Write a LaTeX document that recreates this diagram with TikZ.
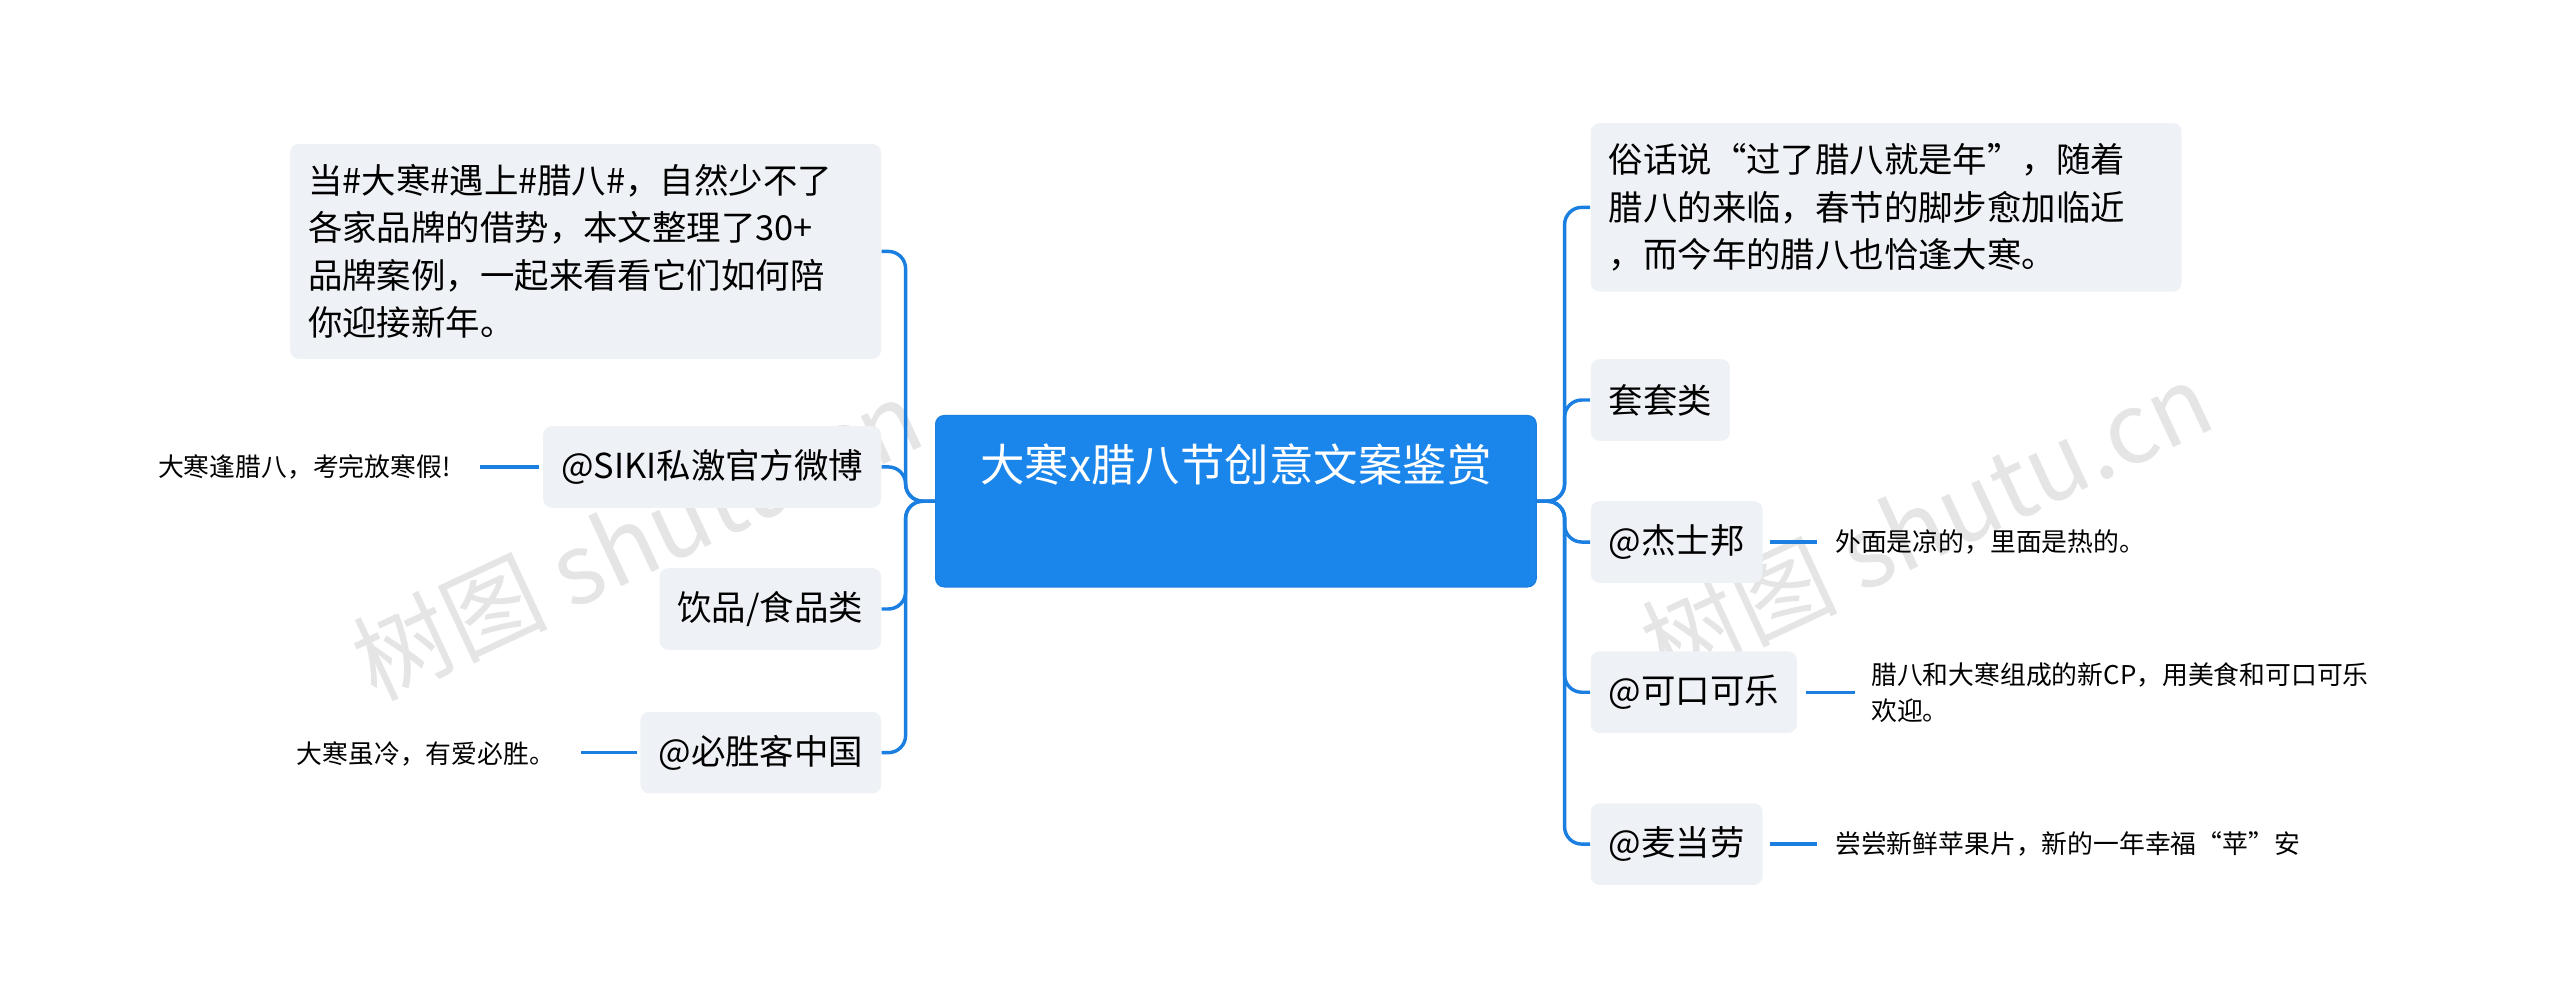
\documentclass[tikz,border=0pt]{standalone}
\usepackage{fontspec}
\setmainfont{Noto Sans CJK SC}
\usetikzlibrary{positioning,calc}
\definecolor{linkblue}{HTML}{1A7FE0}
\definecolor{rootblue}{HTML}{1A86EC}
\definecolor{topicgray}{HTML}{EEF1F5}
\begin{document}
\begin{tikzpicture}[x={(0.02cm,0)},y={(0,-0.02cm)}]
    \tikzset{root/.style={fill=rootblue,draw=linkblue,rounded corners=3pt,text=white,font=\fontsize{15.5}{19}\selectfont,minimum width=7.36cm,minimum height=2.1cm,text depth=0.95cm,inner sep=0pt},
      topic/.style={fill=topicgray,rounded corners=3pt,font=\fontsize{12}{15}\selectfont,minimum height=1cm,inner xsep=0.22cm},
      block/.style={fill=topicgray,rounded corners=3pt,font=\fontsize{12}{16.5}\selectfont,text width=6.8cm,align=left,inner xsep=0.22cm,inner ysep=0.25cm},
      leaf/.style={font=\fontsize{9}{12.5}\selectfont,align=left,inner sep=1pt},
      wire/.style={draw=linkblue,line width=1.2pt,rounded corners=6pt}}
    \useasboundingbox (0,0) rectangle (1568,615);
    % watermark
    \node[text=black!10,font=\fontsize{34}{40}\selectfont,rotate=25] at (390,330) {树图 shutu.cn};
    \node[text=black!10,font=\fontsize{34}{40}\selectfont,rotate=25] at (1180,320) {树图 shutu.cn};

    \node[root] at (757,307) (root) {大寒x腊八节创意文案鉴赏};

    % left side
    \node[block,anchor=east] at (540,154) (intro) {当\#大寒\#遇上\#腊八\#，自然少不了\\各家品牌的借势，本文整理了30+\\品牌案例，一起来看看它们如何陪\\你迎接新年。};
    \node[topic,anchor=east] at (540,286) (siki) {@SIKI私激官方微博};
    \node[topic,anchor=east] at (540,373) (food) {饮品/食品类};
    \node[topic,anchor=east] at (540,461) (pizza) {@必胜客中国};
    \node[leaf,anchor=east] at (278,286) (sikitext) {大寒逢腊八，考完放寒假!};
    \node[leaf,anchor=east] at (342,462) (pizzatext) {大寒虽冷，有爱必胜。};

    % right side
    \node[block,anchor=west] at (974,127) (saying) {俗话说“过了腊八就是年”，随着\\腊八的来临，春节的脚步愈加临近\\，而今年的腊八也恰逢大寒。};
    \node[topic,anchor=west] at (974,245) (condom) {套套类};
    \node[topic,anchor=west] at (974,332) (jissbon) {@杰士邦};
    \node[topic,anchor=west] at (974,424) (coke) {@可口可乐};
    \node[topic,anchor=west] at (974,517) (mcd) {@麦当劳};
    \node[leaf,anchor=west] at (1122,332) (jissbontext) {外面是凉的，里面是热的。};
    \node[leaf,anchor=west] at (1144,424) (coketext) {腊八和大寒组成的新CP，用美食和可口可乐\\欢迎。};
    \node[leaf,anchor=west] at (1122,517) (mcdtext) {尝尝新鲜苹果片，新的一年幸福“苹”安};

    \foreach \t in {intro,siki,food,pizza}
      \draw[wire] (root.west) -- ++(-18,0) |- (\t.east);
    \foreach \t in {saying,condom,jissbon,coke,mcd}
      \draw[wire] (root.east) -- ++(17,0) |- (\t.west);
    \draw[wire] ($(siki.west)+(-2,0)$) -- ($(siki.west -| sikitext.east)+(16,0)$);
    \draw[wire] ($(pizza.west)+(-2,0)$) -- ($(pizza.west -| pizzatext.east)+(14,0)$);
    \draw[wire] ($(jissbon.east)+(4,0)$) -- ($(jissbontext.west)+(-9,0)$);
    \draw[wire] ($(coke.east)+(5,0)$) -- ($(coke.east -| coketext.west)+(-8,0)$);
    \draw[wire] ($(mcd.east)+(4,0)$) -- ($(mcdtext.west)+(-9,0)$);
\end{tikzpicture}
\end{document}
